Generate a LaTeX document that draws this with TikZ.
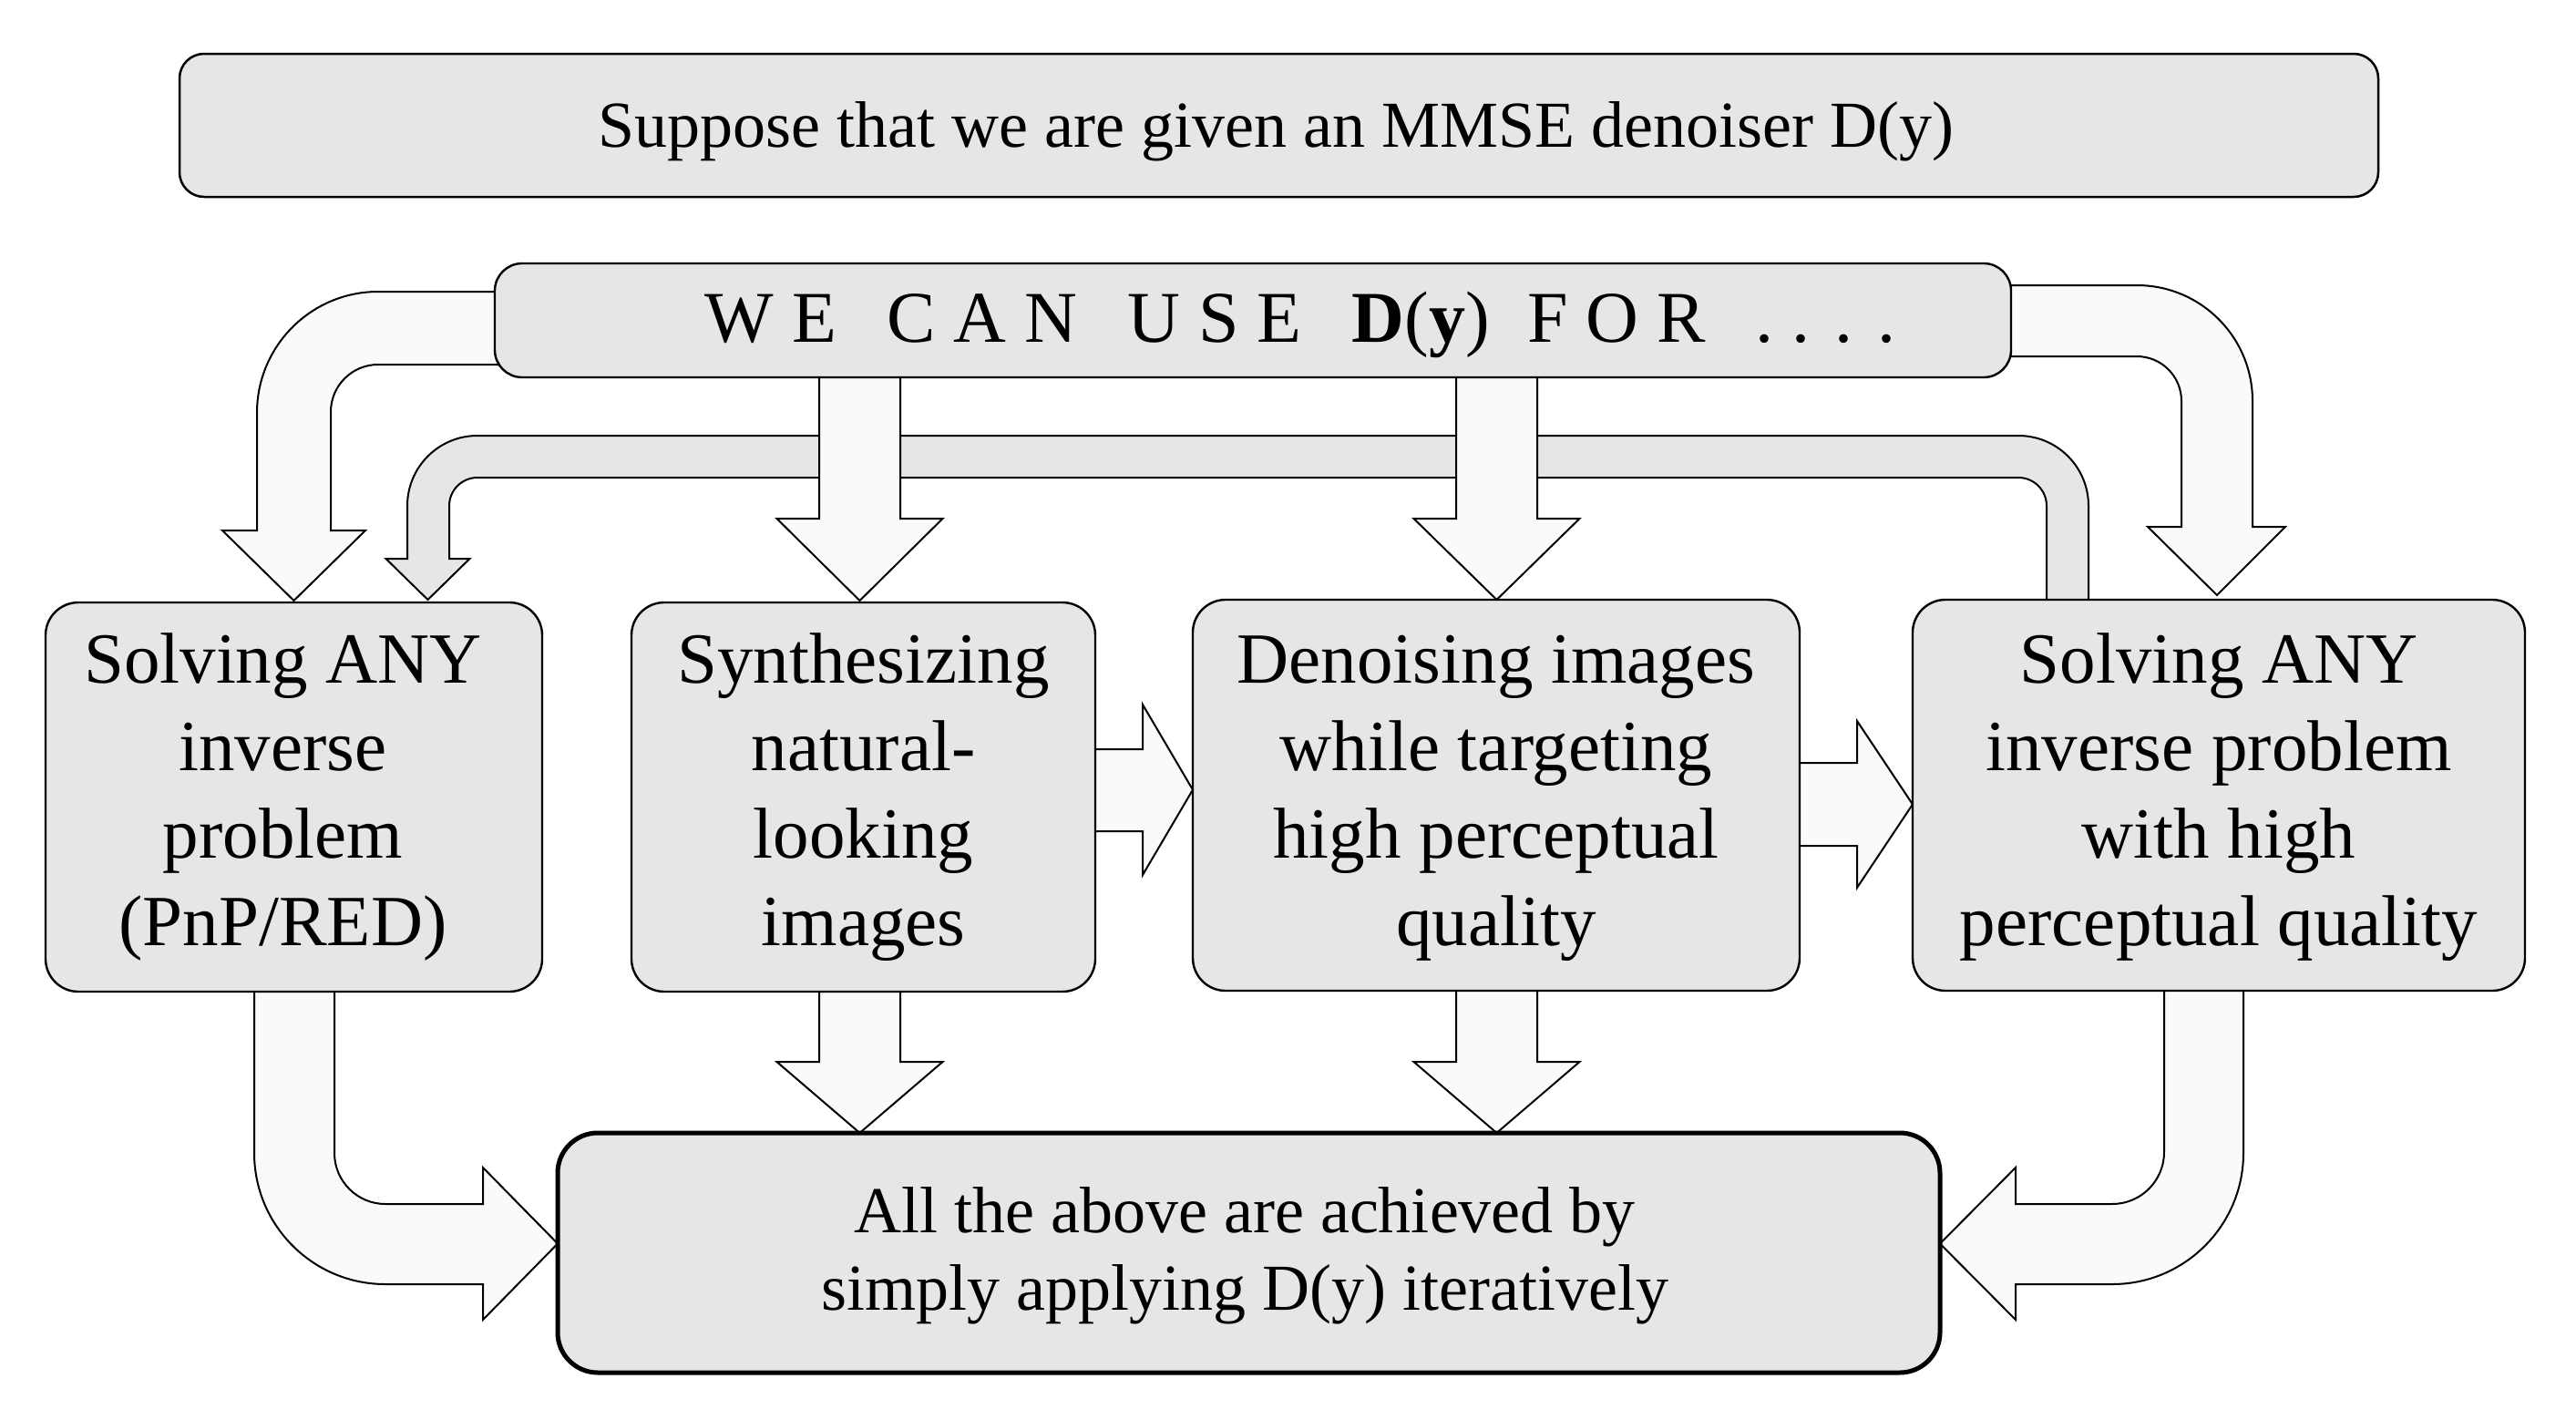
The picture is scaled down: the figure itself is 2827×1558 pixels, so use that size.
\documentclass[tikz,border=0pt]{standalone}
\usepackage{fontspec}
\setmainfont{Liberation Serif}
\definecolor{boxgray}{RGB}{230,230,230}
\definecolor{arrowwhite}{RGB}{250,250,250}
\newcommand\bigtxt{\fontsize{39.5}{48}\selectfont}
\newcommand\midtxt{\fontsize{36}{42.4}\selectfont}
\newcommand\wgap{\hspace{0.69em}}
\newcommand\blockdown[6]{%
  \path[blockarrow] (#1-#5,#2) -- (#1-#5,#3) -- (#1-#6,#3) -- (#1,#4) -- (#1+#6,#3) -- (#1+#5,#3) -- (#1+#5,#2) -- cycle;}
\tikzset{
  blockarrow/.style={draw=black, fill=arrowwhite, line width=1pt, line join=miter},
  grayarrow/.style={draw=black, fill=boxgray, line width=1pt, line join=miter},
  box/.style={draw=black, fill=boxgray, line width=1.2pt, rounded corners=18pt, inner sep=0pt, outer sep=0pt},
  txt/.style={anchor=base, align=center, inner sep=0pt, font=\bigtxt},
}
\begin{document}
\begin{tikzpicture}[x=0.5pt,y=-0.5pt]
\useasboundingbox[fill=white] (0,0) rectangle (2827,1558);
% feedback gray arrow (behind)
\path[grayarrow] (2246,665) -- (2246,555) arc[start angle=0,end angle=-90,radius=31] -- (524,524) arc[start angle=270,end angle=180,radius=31] -- (493,613) -- (515.5,613) -- (469.5,658) -- (423.5,613) -- (447,613) -- (447,555) arc[start angle=180,end angle=270,radius=77] -- (2215,478) arc[start angle=-90,end angle=0,radius=77] -- (2292,665) -- cycle;
% left top curved arrow
\path[blockarrow] (560,320) -- (415,320) arc[start angle=270,end angle=180,radius=133] -- (282,582) -- (244,582) -- (322.5,659) -- (401,582) -- (363,582) -- (363,452) arc[start angle=180,end angle=270,radius=52] -- (560,400) -- cycle;
% right top curved arrow
\path[blockarrow] (2195,313) -- (2345,313) arc[start angle=270,end angle=360,radius=127] -- (2472,578) -- (2508,578) -- (2433,653) -- (2357,578) -- (2394,578) -- (2394,440) arc[start angle=0,end angle=-90,radius=49] -- (2195,391) -- cycle;
% straight down arrows from WE box
\blockdown{943.5}{405}{569}{659}{44.5}{91}
\blockdown{1642.5}{405}{569}{658}{44.5}{91}
% down arrows to bottom box
\blockdown{943.5}{1080}{1165}{1243}{44.5}{91}
\blockdown{1642.5}{1080}{1165}{1243}{44.5}{91}
% right arrows between boxes
\path[blockarrow] (1196,822) -- (1254,822) -- (1254,773) -- (1309,866.5) -- (1254,960) -- (1254,912) -- (1196,912) -- cycle;
\path[blockarrow] (1970,837) -- (2038,837) -- (2038,791) -- (2099,882.5) -- (2038,974) -- (2038,928) -- (1970,928) -- cycle;
% bottom-left curved arrow
\path[blockarrow] (279,1080) -- (279,1265) arc[start angle=180,end angle=90,radius=144] -- (530,1409) -- (530,1448) -- (612,1364.5) -- (530,1281) -- (530,1321) -- (423,1321) arc[start angle=90,end angle=180,radius=56] -- (367,1080) -- cycle;
% bottom-right curved arrow
\path[blockarrow] (2462,1080) -- (2462,1265) arc[start angle=0,end angle=90,radius=144] -- (2212,1409) -- (2212,1448) -- (2129,1364.5) -- (2212,1281) -- (2212,1321) -- (2318,1321) arc[start angle=90,end angle=0,radius=57] -- (2375,1080) -- cycle;
% boxes
\node[box, rounded corners=13.5pt, line width=1.25pt, minimum width=1206.5pt, minimum height=78.5pt] (top) at (1403.5,137.5) {};
\node[box, rounded corners=15pt, minimum width=832pt, minimum height=62.5pt] (we) at (1375,351.5) {};
\node[box, minimum width=272.5pt, minimum height=213.5pt] (b1) at (322.5,874.5) {};
\node[box, minimum width=254.5pt, minimum height=213.5pt] (b2) at (947.5,874.5) {};
\node[box, minimum width=333pt, minimum height=214.5pt] (b3) at (1642,872.5) {};
\node[box, minimum width=336pt, minimum height=214.5pt] (b4) at (2435,872.5) {};
\node[box, rounded corners=22pt, line width=2.5pt, minimum width=758.5pt, minimum height=131.5pt] (bot) at (1370.5,1374.5) {};
% texts (base anchor = last line's baseline)
\node[txt, font=\midtxt] (ttop) at (1400.5,161.6) {Suppose that we are given an MMSE denoiser D(y)};
\node[txt, font=\fontsize{40}{48}\selectfont] (twe) at (1427,375) {W E\wgap C A N\wgap U S E\wgap \textbf{D}(\textbf{y})\hspace{0.52em}F O R\wgap . . . .};
\node[txt] (t1) at (310.5,1037) {Solving ANY\\inverse\\problem\\(PnP/RED)};
\node[txt] (t2) at (947.5,1037) {Synthesizing\\natural-\\looking\\images};
\node[txt] (t3) at (1642,1037) {Denoising images\\while targeting\\high perceptual\\quality};
\node[txt] (t4) at (2435,1037) {Solving ANY\\inverse problem\\with high\\perceptual quality};
\node[txt, font=\midtxt] (tbot) at (1366,1437) {All the above are achieved by\\simply applying D(y) iteratively};
\end{tikzpicture}
\end{document}
